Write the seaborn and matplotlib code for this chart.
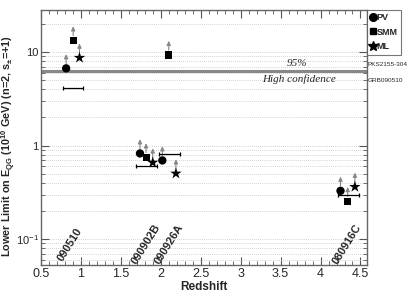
import matplotlib
matplotlib.use("Agg")
import matplotlib.pyplot as plt
import seaborn as sns
import pandas as pd
import numpy as np
from matplotlib.ticker import LogLocator, NullFormatter, MultipleLocator
from matplotlib.lines import Line2D

# ---- data ----
methods = ["PV", "SMM", "ML", "SMM", "PV", "SMM", "ML", "PV", "ML", "PV", "SMM", "ML"]
redshift = [0.816, 0.904, 0.983, 2.10, 1.74, 1.816, 1.90, 2.02, 2.19, 4.25, 4.34, 4.43]
limit = [6.7, 13.3, 8.7, 9.3, 0.826, 0.748, 0.66, 0.695, 0.504, 0.329, 0.255, 0.363]

bar_z = [0.903, 2.11, 1.82, 4.35]
bar_halfwidth = [0.13, 0.13, 0.13, 0.13]
bar_limit = [4.1, 0.805, 0.60, 0.30]

grb_names = ["090510", "090902B", "090926A", "080916C"]
grb_label_z = [0.866, 1.81, 2.104, 4.33]

confidence_level = 6.3
ref_sources = ["PKS2155-304", "GRB090510"]

df = pd.DataFrame({"method": methods, "z": redshift, "limit": limit})

sns.set_style("ticks")
plt.rcParams["font.family"] = ["Liberation Sans", "DejaVu Sans"]
plt.rcParams["mathtext.fontset"] = "custom"
plt.rcParams["mathtext.rm"] = "Liberation Sans"
plt.rcParams["mathtext.bf"] = "Liberation Sans:bold"
plt.rcParams["mathtext.it"] = "Liberation Sans:italic"

fig = plt.figure(figsize=(4.09, 2.94), dpi=100)
ax = fig.add_axes([0.100, 0.0986, 0.797, 0.869])

ax.set_yscale("log")
ax.set_xlim(0.5, 4.58)
ax.set_ylim(0.053, 28.5)

ax.yaxis.set_major_locator(LogLocator(base=10))
ax.yaxis.set_minor_locator(LogLocator(base=10, subs=np.arange(2, 10)))
ax.yaxis.set_minor_formatter(NullFormatter())
ax.grid(True, axis="y", which="both", linestyle=(0, (1, 1.5)), color="#c4c4c4", linewidth=0.6)
ax.grid(False, axis="x")

ax.axhline(confidence_level, color="#888888", lw=2.2, zorder=2)

sns.scatterplot(data=df, x="z", y="limit", style="method",
                markers={"PV": "o", "SMM": "s", "ML": "*"},
                color="black", ax=ax, legend=False, zorder=5,
                size="method", sizes={"PV": 36, "SMM": 26, "ML": 75},
                edgecolor="black", linewidth=0)

for z, l in zip(redshift, limit):
    ax.annotate("", xy=(z, l * 1.42), xytext=(z, l), xycoords="data",
                arrowprops=dict(arrowstyle="-|>,head_length=0.25,head_width=0.12",
                                color="#888888", lw=0.8, shrinkA=3.5, shrinkB=0),
                zorder=4)

ax.errorbar(bar_z, bar_limit, xerr=bar_halfwidth, fmt="none", ecolor="black",
            elinewidth=0.9, capsize=1.5, capthick=0.9, zorder=4)

for name, z in zip(grb_names, grb_label_z):
    ax.text(z, 0.088, name, rotation=58, ha="center", va="center",
            fontsize=8, fontweight="bold")

ax.text(3.70, 7.6, "95%", family="Liberation Serif", style="italic", fontsize=8,
        ha="center", va="center")
ax.text(3.73, 5.1, "High confidence", family="Liberation Serif", style="italic",
        fontsize=8, ha="center", va="center")

trans = ax.get_yaxis_transform()
ax.text(1.002, confidence_level * 1.17, ref_sources[0], transform=trans,
        fontsize=4.6, ha="left", va="center", clip_on=False)
ax.text(1.002, confidence_level * 0.79, ref_sources[1], transform=trans,
        fontsize=4.6, ha="left", va="center", clip_on=False)

ax.set_xticks([0.5, 1, 1.5, 2, 2.5, 3, 3.5, 4, 4.5])
ax.set_xticklabels(["0.5", "1", "1.5", "2", "2.5", "3", "3.5", "4", "4.5"])
ax.xaxis.set_minor_locator(MultipleLocator(0.1))
ax.tick_params(axis="both", which="both", direction="in", top=True, right=True,
               color="#555555")
ax.tick_params(axis="both", which="major", length=6, width=0.8, labelsize=9, pad=2)
ax.tick_params(axis="y", which="major", labelsize=8, pad=1.5)
ax.tick_params(axis="both", which="minor", length=3, width=0.6)
ax.set_yticks([0.1, 1, 10])
ax.set_yticklabels(["$10^{-1}$", "1", "10"])

for s in ax.spines.values():
    s.set_color("#666666")
    s.set_linewidth(1.0)

ax.set_xlabel("Redshift", fontsize=8.5, fontweight="bold", labelpad=1)
ax.set_ylabel(r"Lower Limit on E$_{\mathbf{QG}}$ (10$^{\mathbf{10}}$ GeV) (n=2, s$_{\mathbf{\pm}}$=+1)",
              fontsize=7.8, fontweight="bold")
ax.yaxis.set_label_coords(-0.071, 0.465)

handles = [Line2D([], [], marker="o", color="black", ls="none", markersize=5.5),
           Line2D([], [], marker="s", color="black", ls="none", markersize=4.5),
           Line2D([], [], marker="*", color="black", ls="none", markersize=7)]
leg = ax.legend(handles, ["PV", "SMM", "ML"], loc="upper left",
                bbox_to_anchor=(1.0, 1.0), frameon=True, fancybox=False,
                handlelength=0.5, handletextpad=0.2, handleheight=0.8,
                borderpad=0.4, labelspacing=0.6, borderaxespad=0,
                prop={"weight": "bold", "size": 6.5})
leg.get_frame().set_edgecolor("#555555")
leg.get_frame().set_linewidth(0.8)

fig.savefig("out.png", dpi=100)
